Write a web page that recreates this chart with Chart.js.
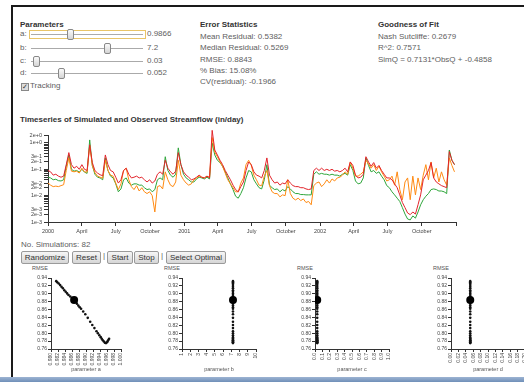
<!DOCTYPE html>
<html>
<head>
<meta charset="utf-8">
<script src="https://cdn.jsdelivr.net/npm/chart.js@4.4.0/dist/chart.umd.min.js"></script>
<style>
  body { margin:0; width:524px; height:382px; overflow:hidden; background:#fff; position:relative;
         font-family:"Liberation Sans", Arial, sans-serif; color:#606060; }
  .abs { position:absolute; white-space:nowrap; font-size:8px; line-height:10px; }
  .bold { font-weight:bold; color:#333; }
  .track { position:absolute; height:1px; background:#aaa; }
  .thumb { position:absolute; width:5px; height:9px; border:1px solid #888; border-radius:2px;
           background:linear-gradient(#fafafa,#d4d4d4); }
  .btn { position:absolute; top:251px; height:11px; border:1px solid #9a9a9a; border-radius:2px;
         background:linear-gradient(#f6f6f6,#d6d6d6); font-size:8px; line-height:11px; text-align:center; color:#333; }
  .rmse { position:absolute; top:265px; font-size:5.5px; color:#555; }
  canvas { position:absolute; }
</style>
</head>
<body>
<div style="position:absolute;left:11px;top:5px;width:520px;height:380px;border-top:2px solid #1a1a1a;border-left:2px solid #1a1a1a"></div>

<!-- parameters -->
<div class="abs bold" style="left:20px;top:20px">Parameters</div>
<div class="abs" style="left:20px;top:29px">a:</div>
<div style="position:absolute;left:29px;top:30px;width:115px;height:7px;border:1px solid #e9c467"></div>
<div class="track" style="left:31px;top:34px;width:112px"></div>
<div class="thumb" style="left:67px;top:29px"></div>
<div class="abs" style="left:147px;top:29px">0.9866</div>

<div class="abs" style="left:20px;top:43px">b:</div>
<div class="track" style="left:31px;top:48px;width:112px"></div>
<div class="thumb" style="left:104px;top:43px"></div>
<div class="abs" style="left:147px;top:43px">7.2</div>

<div class="abs" style="left:20px;top:56px">c:</div>
<div class="track" style="left:31px;top:61px;width:112px"></div>
<div class="thumb" style="left:33px;top:56px"></div>
<div class="abs" style="left:147px;top:56px">0.03</div>

<div class="abs" style="left:20px;top:68px">d:</div>
<div class="track" style="left:31px;top:73px;width:112px"></div>
<div class="thumb" style="left:58px;top:68px"></div>
<div class="abs" style="left:147px;top:68px">0.052</div>

<div style="position:absolute;left:21px;top:83px;width:6px;height:6px;border:1px solid #888;background:#ddd;font-size:7px;line-height:6px;color:#333;text-align:center">&#10003;</div>
<div class="abs" style="left:30px;top:81px">Tracking</div>

<!-- error statistics -->
<div class="abs bold" style="left:200px;top:20px">Error Statistics</div>
<div class="abs" style="left:200px;top:32px">Mean Residual: 0.5382</div>
<div class="abs" style="left:200px;top:43px">Median Residual: 0.5269</div>
<div class="abs" style="left:200px;top:55px">RMSE: 0.8843</div>
<div class="abs" style="left:200px;top:66px">% Bias: 15.08%</div>
<div class="abs" style="left:200px;top:77px">CV(residual): -0.1966</div>

<div class="abs bold" style="left:378px;top:20px">Goodness of Fit</div>
<div class="abs" style="left:378px;top:32px">Nash Sutcliffe: 0.2679</div>
<div class="abs" style="left:378px;top:43px">R^2: 0.7571</div>
<div class="abs" style="left:378px;top:55px">SimQ = 0.7131*ObsQ + -0.4858</div>

<div class="abs bold" style="left:20px;top:115px">Timeseries of Simulated and Observed Streamflow (in/day)</div>
<canvas id="ts" width="470" height="115" style="left:0;top:125px"></canvas>

<div class="abs" style="left:21px;top:240px">No. Simulations: 82</div>
<div class="btn" style="left:21px;width:46px">Randomize</div>
<div class="btn" style="left:72px;width:27px">Reset</div>
<div class="abs" style="left:103px;top:251px">|</div>
<div class="btn" style="left:107px;width:24px">Start</div>
<div class="btn" style="left:134px;width:23px">Stop</div>
<div class="abs" style="left:161px;top:251px">|</div>
<div class="btn" style="left:166px;width:58px">Select Optimal</div>

<div class="rmse" style="left:32px">RMSE</div>
<div class="rmse" style="left:164px">RMSE</div>
<div class="rmse" style="left:297px">RMSE</div>
<div class="rmse" style="left:433px">RMSE</div>
<canvas id="pa" width="106" height="108" style="left:23px;top:265px"></canvas>
<canvas id="pb" width="110" height="108" style="left:154px;top:265px"></canvas>
<canvas id="pc" width="110" height="108" style="left:287px;top:265px"></canvas>
<canvas id="pd" width="110" height="108" style="left:423px;top:265px"></canvas>

<div style="position:absolute;left:0;top:377px;width:524px;height:5px;background:linear-gradient(#9db4d3,#6f8fb8)"></div>

<script>
// weekly samples, days since 2000-01-01
const days = [0,7,14,21,28,35,42,49,56,63,70,77,84,91,98,105,112,119,126,133,140,147,154,161,168,175,182,189,196,203,
  210,217,224,231,238,245,252,259,266,273,280,287,294,301,308,315,322,329,336,343,350,357,364,371,378,385,392,399,406,413,
  420,427,434,441,448,455,462,469,476,483,490,497,504,511,518,525,532,539,546,553,560,567,574,581,588,595,602,609,616,623,
  630,637,644,651,658,665,672,679,686,693,700,707,714,721,728,735,742,749,756,763,770,777,784,791,798,805,812,819,826,833,
  840,847,854,861,868,875,882,889,896,903,910,917,924,931,938,945,952,959,966,973,980,987,994,1001,1008,1015,1022,1029,1036,1043,
  1050,1057,1064,1071,1078,1085,1092];

const redFlow = [0.09,0.08,0.06,0.065,0.055,0.05,0.055,0.15,0.43,0.15,
  0.11,0.13,0.1,0.15,0.1,0.09,0.85,0.18,0.09,0.072,
  0.062,0.057,0.35,0.15,0.09,0.08,0.05,0.03,0.04,0.09,
  0.11,0.065,0.047,0.05,0.055,0.047,0.05,0.04,0.033,0.04,
  0.03,0.036,0.065,0.08,0.065,0.22,0.11,0.08,0.065,0.085,
  0.43,0.15,0.08,0.06,0.05,0.04,0.043,0.05,0.06,0.05,
  0.047,0.055,0.047,3.0,0.54,0.35,0.22,0.15,0.09,0.06,
  0.04,0.025,0.017,0.014,0.022,0.033,0.09,0.19,0.15,0.08,
  0.06,0.055,0.047,0.09,0.27,0.06,0.04,0.03,0.033,0.025,
  0.03,0.028,0.04,0.03,0.024,0.022,0.022,0.02,0.02,0.018,
  0.017,0.018,0.09,0.11,0.09,0.11,0.09,0.1,0.09,0.1,
  0.085,0.09,0.08,0.09,0.11,0.08,0.19,0.14,0.06,0.047,
  0.05,0.065,0.3,0.19,0.13,0.18,0.11,0.14,0.09,0.065,
  0.047,0.047,0.04,0.028,0.02,0.0107,0.0055,0.0035,0.0022,0.0019,
  0.0024,0.002,0.0045,0.0107,0.04,0.06,0.09,0.18,0.047,0.033,
  0.028,0.024,0.022,0.02,0.47,0.22,0.15];

const greenFlow = [0.05,0.047,0.04,0.042,0.037,0.036,0.04,0.13,0.35,0.1,
  0.085,0.09,0.078,0.1,0.078,0.07,1.3,0.14,0.065,0.05,
  0.047,0.04,0.27,0.09,0.055,0.047,0.028,0.014,0.018,0.04,
  0.047,0.03,0.025,0.028,0.028,0.025,0.025,0.02,0.017,0.018,
  0.014,0.017,0.04,0.047,0.04,0.3,0.09,0.06,0.05,0.065,
  0.65,0.15,0.065,0.047,0.04,0.033,0.033,0.043,0.05,0.047,
  0.043,0.05,0.043,1.0,0.35,0.22,0.18,0.13,0.08,0.047,
  0.028,0.017,0.0095,0.008,0.012,0.02,0.047,0.09,0.08,0.04,
  0.028,0.02,0.018,0.04,0.15,0.025,0.02,0.017,0.018,0.014,
  0.017,0.015,0.022,0.018,0.014,0.012,0.012,0.011,0.011,0.0107,
  0.0107,0.0107,0.065,0.08,0.065,0.07,0.065,0.065,0.06,0.065,
  0.06,0.06,0.055,0.065,0.07,0.06,0.15,0.09,0.036,0.028,
  0.03,0.047,0.27,0.14,0.08,0.09,0.07,0.08,0.055,0.04,
  0.024,0.02,0.014,0.0107,0.008,0.006,0.0035,0.002,0.0013,0.0012,
  0.0017,0.0014,0.0024,0.0045,0.007,0.0095,0.012,0.017,0.018,0.017,
  0.015,0.015,0.014,0.012,0.54,0.22,0.15];

const orangeFlow = [0.03,0.025,0.022,0.023,0.022,0.024,0.026,0.09,0.27,0.085,
  0.08,0.085,0.072,0.11,0.08,0.078,0.8,0.14,0.075,0.055,
  0.05,0.046,0.22,0.09,0.06,0.055,0.03,0.017,0.028,0.09,
  0.11,0.04,0.022,0.017,0.024,0.015,0.02,0.014,0.012,0.014,
  0.01,0.0024,0.022,0.024,0.018,0.08,0.04,0.025,0.022,0.033,
  0.22,0.06,0.04,0.03,0.025,0.028,0.04,0.047,0.055,0.05,
  0.047,0.055,0.05,1.6,0.45,0.3,0.19,0.13,0.072,0.04,
  0.028,0.02,0.014,0.014,0.03,0.047,0.15,0.22,0.14,0.06,
  0.04,0.025,0.024,0.055,0.09,0.024,0.014,0.012,0.012,0.009,
  0.0107,0.01,0.04,0.012,0.008,0.0069,0.008,0.0065,0.0075,0.0055,
  0.006,0.0045,0.024,0.03,0.033,0.022,0.028,0.04,0.03,0.043,
  0.036,0.047,0.05,0.06,0.08,0.065,0.19,0.11,0.055,0.055,
  0.065,0.08,0.22,0.16,0.11,0.15,0.09,0.13,0.08,0.055,
  0.036,0.04,0.055,0.025,0.08,0.017,0.007,0.033,0.047,0.007,
  0.055,0.0107,0.047,0.017,0.06,0.15,0.04,0.19,0.047,0.11,
  0.033,0.08,0.04,0.025,0.27,0.14,0.08];

// time axis ticks (quarter starts)
const quarterDays = [0,91,182,274,366,456,547,639,731,821,912,1004,1096];
const quarterLabels = ['2000','April','July','October','2001','April','July','October','2002','April','July','October',''];

const yTickValues = [0.001,0.002,0.003,0.004,0.005,0.006,0.007,0.008,0.009,
  0.01,0.02,0.03,0.04,0.05,0.06,0.07,0.08,0.09,
  0.1,0.2,0.3,0.4,0.5,0.6,0.7,0.8,0.9,1,2];
const yTickLabels = ['1e-3','2e-3','3e-3','','','','','','',
  '1e-2','2e-2','3e-2','','','','','','',
  '1e-1','2e-1','3e-1','','','','','','',
  '1e+0','2e+0'];

// simulations (parameter a vs RMSE)
const simA = [0.9815,0.9818,0.9822,0.9826,0.9830,0.9834,0.9838,0.9842,0.9846,0.9850,
  0.9855,0.9860,0.9870,0.9874,0.9878,0.9882,0.9886,0.9892,0.9898,0.9905,
  0.9912,0.9918,0.9924,0.9930,0.9934,0.9938,0.9942,0.9945,0.9948,0.9951,
  0.9954,0.9957,0.9960,0.9962,0.9964,0.9966];
const simRmse = [0.932,0.929,0.926,0.922,0.918,0.914,0.909,0.905,0.901,0.897,
  0.893,0.889,0.880,0.875,0.870,0.866,0.862,0.855,0.848,0.839,
  0.829,0.821,0.813,0.805,0.800,0.795,0.790,0.786,0.782,0.779,
  0.776,0.775,0.777,0.780,0.783,0.786];
const current = { a: 0.9866, b: 7.2, c: 0.03, d: 0.052, rmse: 0.8843 };

const axisColor = '#333';

new Chart(document.getElementById('ts'), {
  type: 'line',
  data: {
    datasets: [
      { data: days.map((d, i) => ({ x: d, y: redFlow[i] })), borderColor: '#e2232a' },
      { data: days.map((d, i) => ({ x: d, y: orangeFlow[i] })), borderColor: '#ff8a12' },
      { data: days.map((d, i) => ({ x: d, y: greenFlow[i] })), borderColor: '#2ea53a' }
    ].map(ds => Object.assign(ds, { borderWidth: 1, pointRadius: 0, tension: 0, clip: false }))
  },
  options: {
    responsive: false, animation: false, events: [],
    layout: { padding: { top: 10, right: 14, bottom: 0, left: 0 } },
    plugins: { legend: { display: false }, tooltip: { enabled: false } },
    scales: {
      x: {
        type: 'linear', min: 0, max: 1096,
        afterBuildTicks: s => { s.ticks = quarterDays.map(v => ({ value: v })); },
        afterFit: s => { s.height = 18; },
        grid: { drawOnChartArea: false, tickLength: 4, color: axisColor },
        border: { color: axisColor },
        ticks: { callback: (v, i) => quarterLabels[i], font: { size: 5.5 }, color: '#444',
                 maxRotation: 0, autoSkip: false, padding: 2 }
      },
      y: {
        type: 'logarithmic', min: 0.001, max: 2,
        afterBuildTicks: s => { s.ticks = yTickValues.map(v => ({ value: v })); },
        afterFit: s => { s.width = 48; },
        grid: { drawOnChartArea: false, tickLength: 4, color: axisColor },
        border: { color: axisColor },
        ticks: { callback: (v, i) => yTickLabels[i], font: { size: 5.5 }, color: '#444',
                 autoSkip: false, padding: 2 }
      }
    }
  }
});

function paramPlot(id, points, hl, xmin, xmax, step, dec, title) {
  new Chart(document.getElementById(id), {
    type: 'scatter',
    data: {
      datasets: [
        { data: [hl], pointRadius: 4, backgroundColor: '#000', borderWidth: 0 },
        { data: points, pointRadius: 1.3, backgroundColor: '#111', borderWidth: 0 }
      ]
    },
    options: {
      responsive: false, animation: false, events: [],
      layout: { padding: { top: 13, right: 8, bottom: 0, left: 0 } },
      plugins: { legend: { display: false }, tooltip: { enabled: false } },
      scales: {
        x: {
          type: 'linear', min: xmin, max: xmax,
          afterFit: s => { s.height = 24; },
          grid: { drawOnChartArea: false, tickLength: 3, color: axisColor },
          border: { color: axisColor },
          ticks: { stepSize: step, autoSkip: false, minRotation: 90, maxRotation: 90,
                   callback: v => v.toFixed(dec), font: { size: 5 }, color: '#444', padding: 1 },
          title: { display: true, text: title, font: { size: 5.5 }, color: '#555', padding: 0 }
        },
        y: {
          min: 0.76, max: 0.94,
          afterFit: s => { s.width = 28; },
          grid: { drawOnChartArea: false, tickLength: 3, color: axisColor },
          border: { color: axisColor },
          ticks: { stepSize: 0.02, autoSkip: false, callback: v => v.toFixed(2),
                   font: { size: 5 }, color: '#444', padding: 1 }
        }
      }
    }
  });
}

paramPlot('pa', simA.map((a, i) => ({ x: a, y: simRmse[i] })), { x: current.a, y: current.rmse },
  0.980, 1.000, 0.002, 3, 'parameter a');
paramPlot('pb', simRmse.map(r => ({ x: current.b, y: r })), { x: current.b, y: current.rmse },
  1, 10, 1, 0, 'parameter b');
paramPlot('pc', simRmse.map(r => ({ x: current.c, y: r })), { x: current.c, y: current.rmse },
  0, 1, 0.1, 1, 'parameter c');
paramPlot('pd', simRmse.map(r => ({ x: current.d, y: r })), { x: current.d, y: current.rmse },
  0, 0.2, 0.02, 2, 'parameter d');
</script>
</body>
</html>
